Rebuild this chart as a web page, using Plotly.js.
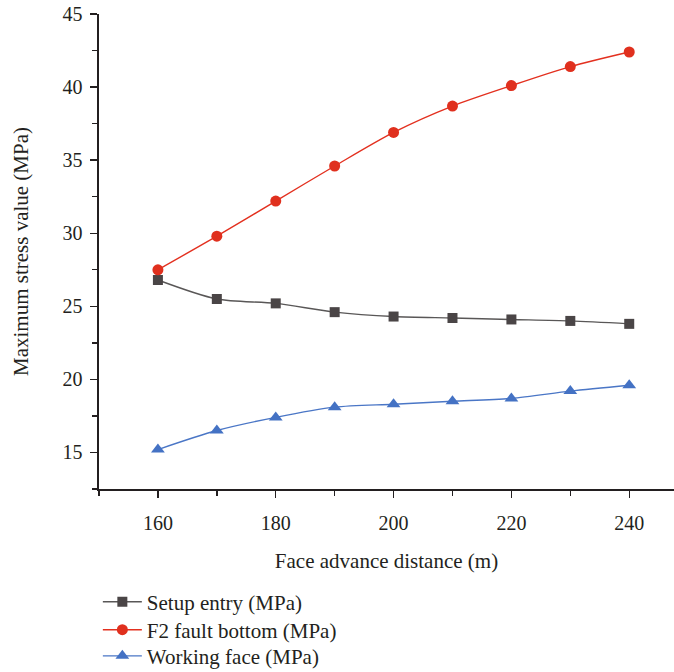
<!DOCTYPE html>
<html>
<head>
<meta charset="utf-8">
<script src="https://cdn.plot.ly/plotly-3.0.1.min.js"></script>
<style>
  html, body { margin: 0; padding: 0; background: #fff; overflow: hidden; }
  #chart { width: 674px; height: 672px; }
</style>
</head>
<body>
<div id="chart"></div>
<script>
// Face advance distance (m)
const distance = [160, 170, 180, 190, 200, 210, 220, 230, 240];

// Maximum stress values (MPa)
const setupEntry = [26.8, 25.5, 25.2, 24.6, 24.3, 24.2, 24.1, 24.0, 23.8];
const f2FaultBottom = [27.5, 29.8, 32.2, 34.6, 36.9, 38.7, 40.1, 41.4, 42.4];
const workingFace = [15.2, 16.5, 17.4, 18.1, 18.3, 18.5, 18.7, 19.2, 19.6];

const seriesNames = ['Setup entry (MPa)', 'F2 fault bottom (MPa)', 'Working face (MPa)'];

const FONT = 'Liberation Serif, Times New Roman, serif';
const AXIS_COLOR = '#231f20';

function series(y, name, legendId, lineColor, markerColor, symbol, size) {
  return {
    x: distance,
    y: y,
    name: name,
    legend: legendId,
    type: 'scatter',
    mode: 'lines+markers',
    line: { color: lineColor, width: 1.4, shape: 'spline', smoothing: 0.8 },
    marker: { color: markerColor, symbol: symbol, size: size, line: { width: 0 } },
    cliponaxis: false
  };
}

const traces = [
  series(setupEntry, seriesNames[0], 'legend', '#595757', '#4a4546', 'square', 10),
  series(f2FaultBottom, seriesNames[1], 'legend2', '#e3301f', '#e0301e', 'circle', 11),
  series(workingFace, seriesNames[2], 'legend3', '#4a76c6', '#4472c4', 'triangle-up', 12)
];

// one legend per row so the rows sit at a fixed spacing below the axes
function legendRow(y) {
  return {
    x: -0.002, y: y, xanchor: 'left', yanchor: 'middle',
    orientation: 'v',
    bgcolor: 'rgba(0,0,0,0)',
    font: { family: FONT, size: 21, color: AXIS_COLOR },
    itemwidth: 39
  };
}

const layout = {
  width: 674,
  height: 672,
  paper_bgcolor: '#ffffff',
  plot_bgcolor: '#ffffff',
  margin: { l: 99, r: 0, t: 14, b: 183, pad: 0, autoexpand: false },
  font: { family: FONT, size: 20, color: AXIS_COLOR },
  showlegend: true,
  legend: legendRow(-0.238),
  legend2: legendRow(-0.297),
  legend3: legendRow(-0.352),
  xaxis: {
    range: [150, 247.6],
    tickmode: 'array',
    tickvals: [160, 180, 200, 220, 240],
    ticktext: ['160', '180', '200', '220', '240'],
    ticks: 'outside', ticklen: 7, tickwidth: 1.4, tickcolor: AXIS_COLOR,
    ticklabelstandoff: 8,
    minor: { tickmode: 'array', tickvals: [150, 170, 190, 210, 230], ticks: 'outside', ticklen: 5, tickwidth: 1.4, tickcolor: AXIS_COLOR, showgrid: false },
    showline: true, linecolor: AXIS_COLOR, linewidth: 1.6,
    showgrid: false, zeroline: false,
    tickfont: { family: FONT, size: 20, color: AXIS_COLOR },
    title: { text: 'Face advance distance (m)', font: { family: FONT, size: 21, color: AXIS_COLOR }, standoff: 21 }
  },
  yaxis: {
    range: [12.5, 45],
    tickmode: 'array',
    tickvals: [15, 20, 25, 30, 35, 40, 45],
    ticks: 'outside', ticklen: 7, tickwidth: 1.4, tickcolor: AXIS_COLOR,
    ticklabelstandoff: 4,
    minor: { tickmode: 'array', tickvals: [12.5, 17.5, 22.5, 27.5, 32.5, 37.5, 42.5], ticks: 'outside', ticklen: 5, tickwidth: 1.4, tickcolor: AXIS_COLOR, showgrid: false },
    showline: true, linecolor: AXIS_COLOR, linewidth: 1.6,
    showgrid: false, zeroline: false,
    tickfont: { family: FONT, size: 20, color: AXIS_COLOR },
    title: { text: 'Maximum stress value (MPa)', font: { family: FONT, size: 21, color: AXIS_COLOR }, standoff: 28 }
  }
};

Plotly.newPlot('chart', traces, layout, { staticPlot: true, displayModeBar: false });
</script>
</body>
</html>
